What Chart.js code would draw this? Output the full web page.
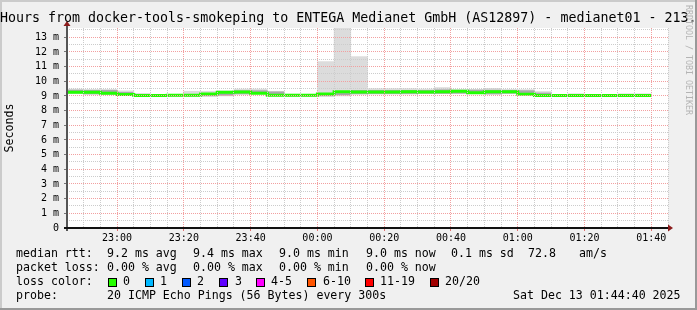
<!DOCTYPE html>
<html>
<head>
<meta charset="utf-8">
<script src="https://cdn.jsdelivr.net/npm/chart.js@4.4.1/dist/chart.umd.min.js"></script>
<style>
    html, body { margin: 0; padding: 0; background: #f0f0f0; }
    #wrap { width: 697px; height: 310px; }
</style>
</head>
<body>
<div id="wrap"><canvas id="smoke" width="697" height="310"></canvas></div>
<script>
// SmokePing 3 hour graph, 5 minute steps
const slots = ['22:45', '22:50', '22:55', '23:00', '23:05', '23:10', '23:15', '23:20', '23:25', '23:30',
    '23:35', '23:40', '23:45', '23:50', '23:55', '00:00', '00:05', '00:10', '00:15', '00:20',
    '00:25', '00:30', '00:35', '00:40', '00:45', '00:50', '00:55', '01:00', '01:05', '01:10',
    '01:15', '01:20', '01:25', '01:30', '01:35'];

// values in ms
const medianRtt = [9.30, 9.25, 9.25, 9.18, 9.09, 9.03, 9.03, 9.04, 9.04, 9.13,
    9.25, 9.27, 9.18, 9.04, 9.04, 9.04, 9.13, 9.29, 9.27, 9.27,
    9.27, 9.29, 9.27, 9.29, 9.32, 9.22, 9.29, 9.29, 9.11, 9.03,
    9.03, 9.03, 9.03, 9.03, 9.03];
const smokeLow = [9.15, 9.10, 9.10, 9.05, 9.00, 8.98, 8.98, 8.98, 8.98, 9.00,
    9.10, 9.15, 8.98, 8.98, 8.98, 8.98, 9.00, 9.10, 9.12, 9.12,
    9.12, 9.15, 9.15, 9.15, 9.20, 9.10, 9.15, 9.15, 9.00, 9.00,
    9.00, 9.00, 9.00, 9.00, 9.00];
const smokeHigh = [9.47, 9.45, 9.45, 9.35, 9.15, 9.10, 9.10, 9.32, 9.32, 9.34,
    9.47, 9.47, 9.32, 9.12, 9.10, 11.34, 13.90, 11.68, 9.50, 9.50,
    9.50, 9.47, 9.57, 9.45, 9.45, 9.52, 9.45, 9.43, 9.30, 9.10,
    9.15, 9.10, 9.10, 9.15, 9.15];
const coreLow = [9.22, 9.14, 9.14, 9.10, 9.04, 9.00, 9.00, 9.00, 9.00, 9.05,
    9.14, 9.18, 9.05, 9.00, 9.00, 9.00, 9.08, 9.15, 9.16, 9.16,
    9.16, 9.18, 9.17, 9.18, 9.23, 9.14, 9.18, 9.18, 9.04, 9.01,
    9.01, 9.01, 9.01, 9.01, 9.01];
const coreHigh = [9.40, 9.38, 9.38, 9.25, 9.12, 9.06, 9.06, 9.10, 9.10, 9.20,
    9.36, 9.36, 9.28, 9.08, 9.08, 9.10, 9.20, 9.38, 9.38, 9.38,
    9.38, 9.38, 9.42, 9.38, 9.40, 9.40, 9.38, 9.36, 9.20, 9.06,
    9.08, 9.06, 9.06, 9.08, 9.08];

const xTickLabels = ['23:00', '23:20', '23:40', '00:00', '00:20', '00:40', '01:00', '01:20', '01:40'];
const yTickLabels = ['0', '1 m', '2 m', '3 m', '4 m', '5 m', '6 m', '7 m', '8 m', '9 m', '10 m', '11 m', '12 m', '13 m'];

const MONO = 'DejaVu Sans Mono';
Chart.defaults.font.family = MONO;

function slotMinutes(t) {
    const [h, m] = t.split(':').map(Number);
    let mins = h * 60 + m - (22 * 60 + 45);
    if (mins < 0) mins += 1440;
    return mins;
}

const starts = slots.map(slotMinutes);
const outerBars = starts.map((s, i) => ({ x: s + 2.5, y: [smokeLow[i], smokeHigh[i]] }));
const innerBars = starts.map((s, i) => ({ x: s + 2.5, y: [coreLow[i], coreHigh[i]] }));
const medianPts = starts.map((s, i) => ({ x: s, y: medianRtt[i] }));
medianPts.push({ x: starts[starts.length - 1] + 5, y: medianRtt[medianRtt.length - 1] });

const isMajorX = v => (v - 15) % 20 === 0;

const decor = {
    id: 'decor',
    beforeDraw(chart) {
        const c = chart.ctx, a = chart.chartArea;
        c.save();
        c.fillStyle = '#f0f0f0';
        c.fillRect(0, 0, 697, 310);
        c.fillStyle = '#cbcbcb';
        c.fillRect(0, 0, 697, 2);
        c.fillRect(0, 0, 2, 310);
        c.fillStyle = '#999999';
        c.fillRect(0, 308, 697, 2);
        c.fillRect(695, 0, 2, 310);
        c.fillStyle = '#ffffff';
        c.fillRect(a.left, a.top, a.right - a.left, a.bottom - a.top);
        c.restore();
    },
    afterDraw(chart) {
        const c = chart.ctx, a = chart.chartArea;
        c.save();
        // axes
        c.fillStyle = '#555555';
        c.fillRect(a.left - 1, a.top - 4, 2, a.bottom - a.top + 7);
        c.fillStyle = '#111111';
        c.fillRect(a.left - 3, a.bottom - 1, a.right - a.left + 5, 2);
        // arrows
        c.fillStyle = '#8b1c1c';
        c.beginPath();
        c.moveTo(a.left, a.top - 7);
        c.lineTo(a.left - 3.5, a.top - 2);
        c.lineTo(a.left + 3.5, a.top - 2);
        c.closePath();
        c.fill();
        c.beginPath();
        c.moveTo(a.right + 5, a.bottom);
        c.lineTo(a.right, a.bottom - 3.5);
        c.lineTo(a.right, a.bottom + 3.5);
        c.closePath();
        c.fill();

        // title
        c.fillStyle = '#000';
        c.textBaseline = 'middle';
        c.textAlign = 'left';
        c.font = '13.3px "' + MONO + '"';
        c.fillText('Hours from docker-tools-smokeping to ENTEGA Medianet GmbH (AS12897) - medianet01 - 213.', 0, 19);

        // legend
        c.font = '11.6px "' + MONO + '"';
        const rows = [
            [[16, 'median rtt:'], [107, '9.2 ms avg'], [193, '9.4 ms max'], [279, '9.0 ms min'],
             [366, '9.0 ms now'], [451, '0.1 ms sd'], [528, '72.8'], [579, 'am/s']],
            [[16, 'packet loss:'], [107, '0.00 % avg'], [193, '0.00 % max'], [279, '0.00 % min'], [366, '0.00 % now']],
            [[16, 'loss color:']],
            [[16, 'probe:'], [107, '20 ICMP Echo Pings (56 Bytes) every 300s'], [513, 'Sat Dec 13 01:44:40 2025']]
        ];
        const rowY = [254, 268, 282, 296];
        rows.forEach((r, i) => r.forEach(([x, t]) => c.fillText(t, x, rowY[i])));

        const swatches = [
            [108, 123, '#26ff00', '0'], [145, 160, '#00b8ff', '1'], [182, 197, '#0059ff', '2'],
            [219, 235, '#5e00ff', '3'], [256, 271, '#ff00ff', '4-5'], [307, 323, '#ff5500', '6-10'],
            [365, 380, '#ff0000', '11-19'], [430, 445, '#a10000', '20/20']
        ];
        swatches.forEach(([bx, tx, col, t]) => {
            c.fillStyle = col;
            c.fillRect(bx, 278, 9, 9);
            c.strokeStyle = '#000';
            c.lineWidth = 1;
            c.strokeRect(bx + 0.5, 278.5, 8, 8);
            c.fillStyle = '#000';
            c.fillText(t, tx, 282);
        });

        // watermark
        c.translate(688, 5);
        c.rotate(Math.PI / 2);
        c.font = '8.3px "' + MONO + '"';
        c.fillStyle = '#b4b4b4';
        c.fillText('RRDTOOL / TOBI OETIKER', 0, 0);
        c.restore();
    }
};

new Chart(document.getElementById('smoke'), {
    type: 'bar',
    data: {
        datasets: [
            {
                type: 'line',
                label: 'median rtt',
                data: medianPts,
                stepped: 'after',
                borderColor: '#20ff00',
                borderWidth: 3,
                borderCapStyle: 'butt',
                pointRadius: 0,
                fill: false,
                order: 0
            },
            {
                label: 'smoke core',
                data: innerBars,
                backgroundColor: '#a8a8a8',
                grouped: false,
                barPercentage: 1,
                categoryPercentage: 1,
                borderWidth: 0,
                order: 1
            },
            {
                label: 'smoke',
                data: outerBars,
                backgroundColor: '#dcdcdc',
                grouped: false,
                barPercentage: 1,
                categoryPercentage: 1,
                borderWidth: 0,
                order: 2
            }
        ]
    },
    options: {
        responsive: false,
        animation: false,
        devicePixelRatio: 1,
        layout: { padding: { left: 0, right: 29, top: 28, bottom: 58 } },
        plugins: { legend: { display: false }, tooltip: { enabled: false } },
        scales: {
            x: {
                type: 'linear',
                min: 0,
                max: 180,
                offset: false,
                border: { display: false, dash: [1, 1] },
                grid: {
                    offset: false,
                    z: 1,
                    color: ctx => isMajorX(ctx.tick.value) ? '#f2a0a0' : '#cccccc',
                    tickColor: ctx => isMajorX(ctx.tick.value) ? '#e07070' : 'rgba(0,0,0,0)',
                    tickLength: 3
                },
                ticks: {
                    stepSize: 5,
                    autoSkip: false,
                    maxRotation: 0,
                    padding: 1,
                    color: '#000',
                    font: { family: MONO, size: 10 },
                    callback: v => isMajorX(v) ? xTickLabels[(v - 15) / 20] : ''
                },
                afterFit(scale) {
                    scale.height = 24;
                    scale.paddingLeft = 0;
                    scale.paddingRight = 0;
                }
            },
            y: {
                min: 0,
                max: 13.63,
                border: { display: false, dash: [1, 1] },
                grid: {
                    z: 1,
                    color: ctx => Number.isInteger(ctx.tick.value) ? '#f2a0a0' : '#cccccc',
                    tickColor: ctx => Number.isInteger(ctx.tick.value) ? '#777777' : 'rgba(0,0,0,0)',
                    tickLength: 3
                },
                ticks: {
                    stepSize: 0.5,
                    includeBounds: false,
                    autoSkip: false,
                    padding: 5,
                    color: '#000',
                    font: { family: MONO, size: 10 },
                    callback: v => Number.isInteger(v) ? yTickLabels[v] : ''
                },
                title: {
                    display: true,
                    text: 'Seconds',
                    color: '#000',
                    font: { family: MONO, size: 11.6 },
                    padding: { top: 3, bottom: 0 }
                },
                afterFit(scale) {
                    scale.width = 67;
                    scale.paddingTop = 0;
                    scale.paddingBottom = 0;
                }
            }
        }
    },
    plugins: [decor]
});
</script>
</body>
</html>
